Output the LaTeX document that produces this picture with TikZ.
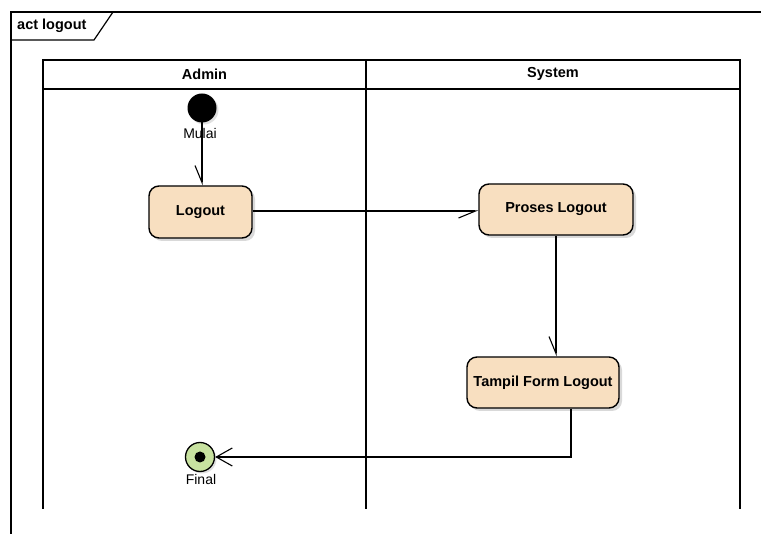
\documentclass[tikz,border=0pt]{standalone}
\usepackage{fontspec}
\setmainfont{Liberation Sans}
\usetikzlibrary{arrows.meta,shadows,calc}
\definecolor{actfill}{RGB}{248,223,192}
\definecolor{finalfill}{RGB}{200,226,160}
\tikzset{
  lane/.style={draw=black, line width=1.2pt},
  actbox/.style={draw=black, line width=1.4pt, fill=actfill, rounded corners=10pt,
    font=\bfseries\fontsize{14.5}{16}\selectfont, align=center,
    drop shadow={shadow xshift=3pt, shadow yshift=-3pt, opacity=0.25, fill=black!60}},
  halfarrow/.style={draw=black, line width=1.1pt, -{Straight Barb[harpoon,swap,length=17pt,width=14pt]}},
  fullarrow/.style={draw=black, line width=1.1pt, -{Straight Barb[length=16pt,width=18pt]}},
  lbl/.style={font=\fontsize{14}{16}\selectfont, inner sep=0pt},
  hdr/.style={font=\bfseries\fontsize{14.5}{16}\selectfont, inner sep=0pt},
}
\begin{document}
\begin{tikzpicture}[x=1pt,y=-1pt]
\useasboundingbox (0,0) rectangle (761,534);
% frame
\draw[line width=1.2pt] (11,534) -- (11,12) -- (761,12);
\draw[line width=1.2pt] (11,40) -- (94,40) -- (113,12);
\node[hdr, anchor=west] (frametitle) at (17,26) {act logout};
% swimlanes
\draw[lane] (43,509) -- (43,60) -- (740,60) -- (740,509);
\draw[lane] (43,89) -- (740,89);
\draw[lane] (366,60) -- (366,509);
\node[hdr] (admin) at (204.5,74) {Admin};
\node[hdr] (system) at (553,74) {System};
% nodes
\node[circle, fill=black, minimum size=29pt, inner sep=0pt,
  drop shadow={shadow xshift=2pt, shadow yshift=-2pt, opacity=0.2, fill=black!60}] (init) at (202,108) {};
\node[actbox, minimum width=103pt, minimum height=52pt] (logout) at (200.5,212) {Logout};
\node[actbox, minimum width=154pt, minimum height=51pt] (proses) at (556,209.5) {Proses Logout};
\node[actbox, minimum width=152pt, minimum height=51pt] (tampil) at (543,382.5) {Tampil Form Logout};
\node[circle, draw=black, line width=1.3pt, fill=finalfill, minimum size=29pt, inner sep=0pt,
  drop shadow={shadow xshift=2pt, shadow yshift=-2pt, opacity=0.2, fill=black!60}] (final) at (200,457) {};
\node[circle, fill=black, minimum size=11pt, inner sep=0pt] (finaldot) at (final.center) {};
% connectors
\draw[halfarrow] (init.center) -- (init.center |- logout.north);
\node[lbl] (mulai) at (200,134) {Mulai};
\draw[halfarrow] (logout.east |- 0,211) -- (proses.west |- 0,211);
\draw[halfarrow] (proses.south) -- (proses.south |- tampil.north);
\coordinate (tout) at ([xshift=28pt]tampil.south);
\draw[fullarrow] (tout) |- (final.east);
\node[lbl] (finallbl) at (201,479) {Final};
\end{tikzpicture}
\end{document}
